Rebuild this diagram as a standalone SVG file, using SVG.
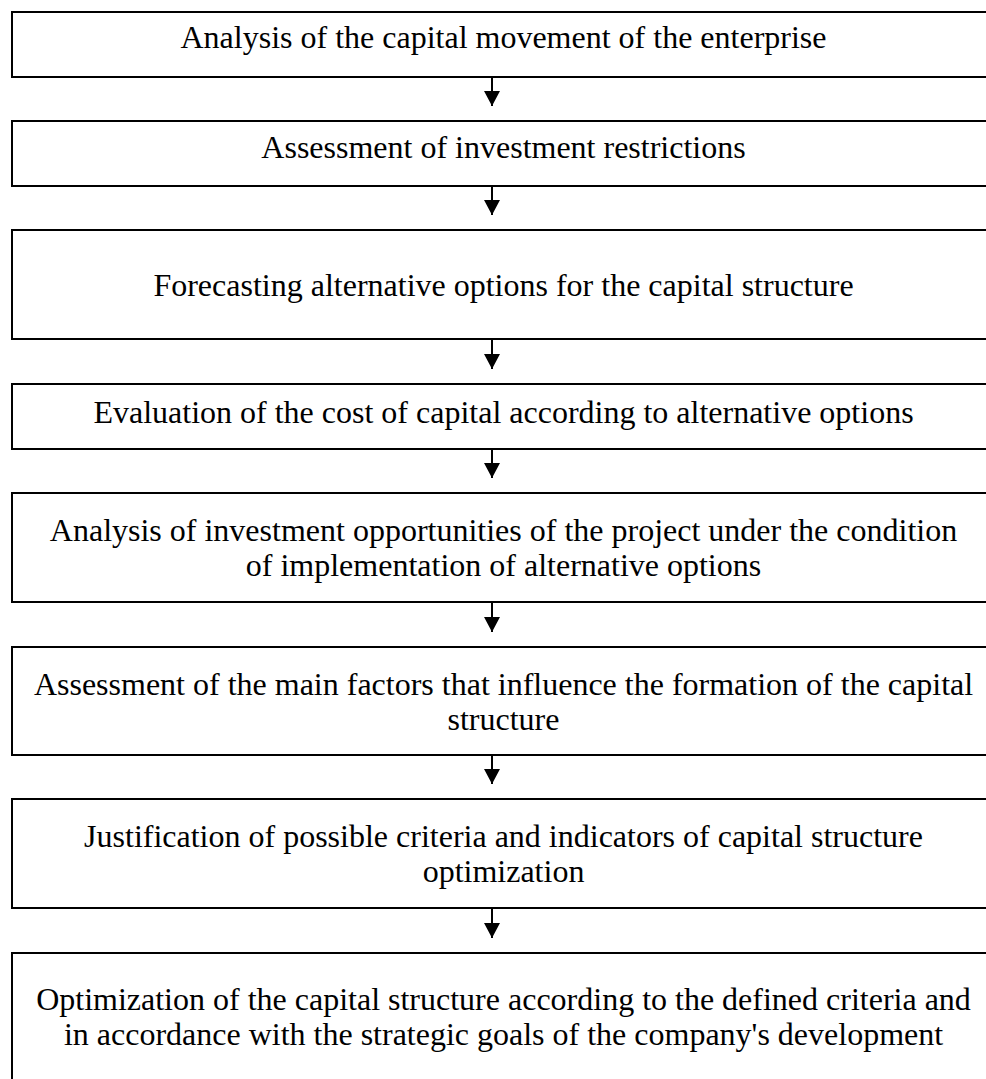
<svg xmlns="http://www.w3.org/2000/svg" width="986" height="1079" viewBox="0 0 986 1079">
<defs>
<style>
.box{fill:#fff;stroke:#000;stroke-width:2}
.t{font-family:"Liberation Serif","Times New Roman",serif;font-size:32px;fill:#000;text-anchor:middle}
.c{stroke:#000;stroke-width:2;fill:none}
</style>
<marker id="ah" markerWidth="8" markerHeight="8" refX="7.5" refY="4" orient="auto" markerUnits="strokeWidth">
<path d="M0,0 L7.5,4 L0,8 Z" fill="#000"/>
</marker>
</defs>
<rect width="986" height="1079" fill="#fff"/>
<g id="n1"><rect class="box" x="12" y="12" width="985" height="65"/><text class="t" x="503.5" y="48">Analysis of the capital movement of the enterprise</text></g>
<g id="n2"><rect class="box" x="12" y="121" width="985" height="65"/><text class="t" x="503.5" y="158">Assessment of investment restrictions</text></g>
<g id="n3"><rect class="box" x="12" y="230" width="985" height="109"/><text class="t" x="503.5" y="296">Forecasting alternative options for the capital structure</text></g>
<g id="n4"><rect class="box" x="12" y="384" width="985" height="65"/><text class="t" x="503.5" y="423">Evaluation of the cost of capital according to alternative options</text></g>
<g id="n5"><rect class="box" x="12" y="493" width="985" height="109"/><text class="t" x="503.5" y="541">Analysis of investment opportunities of the project under the condition</text><text class="t" x="503.5" y="576">of implementation of alternative options</text></g>
<g id="n6"><rect class="box" x="12" y="647" width="985" height="108"/><text class="t" x="503.5" y="695">Assessment of the main factors that influence the formation of the capital</text><text class="t" x="503.5" y="730">structure</text></g>
<g id="n7"><rect class="box" x="12" y="799" width="985" height="109"/><text class="t" x="503.5" y="847">Justification of possible criteria and indicators of capital structure</text><text class="t" x="503.5" y="882">optimization</text></g>
<g id="n8"><rect class="box" x="12" y="953" width="985" height="140"/><text class="t" x="503.5" y="1010">Optimization of the capital structure according to the defined criteria and</text><text class="t" x="503.5" y="1045">in accordance with the strategic goals of the company's development</text></g>
<g id="connectors">
<line class="c" x1="492" y1="77" x2="492" y2="106" marker-end="url(#ah)"/>
<line class="c" x1="492" y1="186" x2="492" y2="215" marker-end="url(#ah)"/>
<line class="c" x1="492" y1="339" x2="492" y2="369" marker-end="url(#ah)"/>
<line class="c" x1="492" y1="449" x2="492" y2="478" marker-end="url(#ah)"/>
<line class="c" x1="492" y1="602" x2="492" y2="632" marker-end="url(#ah)"/>
<line class="c" x1="492" y1="755" x2="492" y2="784" marker-end="url(#ah)"/>
<line class="c" x1="492" y1="908" x2="492" y2="938" marker-end="url(#ah)"/>
</g>
</svg>
